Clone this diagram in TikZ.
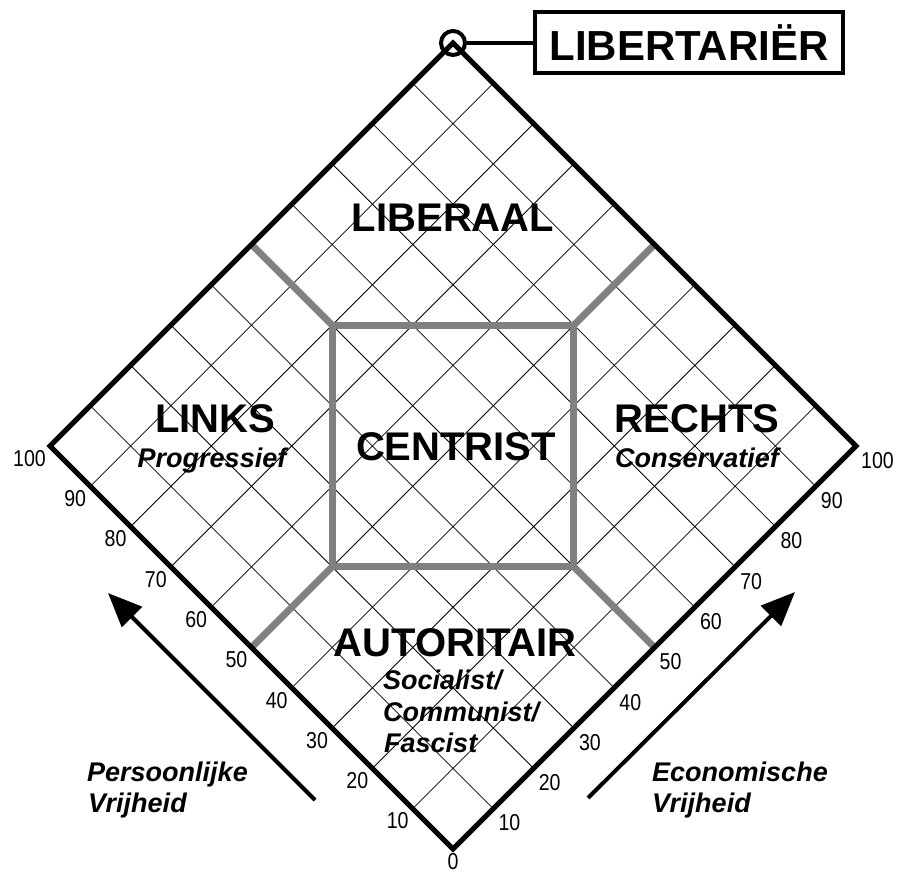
\documentclass[tikz,border=0pt]{standalone}
\usepackage{fontspec}
\setmainfont{Liberation Sans}
\newfontfamily\ticksfont[FakeStretch=0.85]{Liberation Sans}
\usetikzlibrary{arrows.meta}
\tikzset{
  gridline/.style = {black, line width=0.8pt},
  rim/.style      = {black, line width=5pt, line join=miter},
  zone/.style     = {gray, line width=7pt, line join=miter},
  quadrant/.style = {anchor=base, inner sep=0pt, font=\fontsize{40}{44}\selectfont\bfseries},
  leaning/.style  = {anchor=base, inner sep=0pt, font=\fontsize{27}{32}\selectfont\bfseries\itshape},
  tickno/.style   = {inner sep=0pt, font=\fontsize{23}{23}\selectfont\ticksfont},
  freedom/.style  = {-{Triangle[length=34pt,width=28pt]}, line width=4pt},
  namebox/.style  = {draw, line width=4pt, minimum width=308pt, minimum height=61pt,
                     inner sep=0pt, font=\fontsize{42}{46}\selectfont\bfseries}
}

\begin{document}
\begin{tikzpicture}[x=1pt,y=1pt]
  \useasboundingbox (0,0) rectangle (899,874);
  \begin{scope}[shift={(453,25)}, x={(4.03pt,4.03pt)}, y={(-4.03pt,4.03pt)}]
    \foreach \k in {10,20,...,90} {
      \draw[gridline] (\k,0) -- (\k,100);
      \draw[gridline] (0,\k) -- (100,\k);
    }
    \draw[zone] (50,80) -- (80,50) -- (50,20) -- (20,50) -- cycle;
    \draw[zone] (50,80) -- (50,100) (80,50) -- (100,50)
                (50,20) -- (50,0)   (20,50) -- (0,50);
    \draw[rim] (0,0) -- (100,0) -- (100,100) -- (0,100) -- cycle;
    \foreach \k in {10,20,...,100} {
      \node[tickno, anchor=north east, xshift=-4pt, yshift=-4pt] (lt\k) at (0,\k) {\k};
      \node[tickno, anchor=north west, xshift=5pt, yshift=-6pt] (rt\k) at (\k,0) {\k};
    }
    \node[tickno, anchor=north, yshift=-4pt] (zero) at (0,0) {0};
    \coordinate (top) at (100,100);
  \end{scope}

  \node[quadrant] (liberaal) at (453,642) {LIBERAAL};
  \node[quadrant] (links)    at (215,441) {LINKS};
  \node[leaning]  (progr)    at (212,406) {Progressief};
  \node[quadrant] (centrist) at (456,413) {CENTRIST};
  \node[quadrant] (rechts)   at (697,441) {RECHTS};
  \node[leaning]  (cons)     at (697,406) {Conservatief};
  \node[quadrant] (autor)    at (455,217) {AUTORITAIR};
  \node[leaning, anchor=base west] (soc)  at (383,184) {Socialist/};
  \node[leaning, anchor=base west] (com)  at (383,152) {Communist/};
  \node[leaning, anchor=base west] (fasc) at (384,121) {Fascist};

  \coordinate (pstart) at (315,74);
  \coordinate (pend)   at (108,281);
  \draw[freedom] (pstart) -- (pend);
  \node[leaning, anchor=base west] (pers) at (87,92) {Persoonlijke};
  \node[leaning, anchor=base west] (pvr)  at (88,61) {Vrijheid};

  \coordinate (estart) at (588,76);
  \coordinate (eend)   at (795,282);
  \draw[freedom] (estart) -- (eend);
  \node[leaning, anchor=base west] (econ) at (652,92) {Economische};
  \node[leaning, anchor=base west] (evr)  at (652,61) {Vrijheid};

  \node[draw, circle, line width=4pt, minimum size=24pt, inner sep=0pt] (apex) at (top) {};
  \node[namebox] (libbox) at (689,831.5) {LIBERTARIËR};
  \draw[line width=4pt] (apex.east) -- (apex.east -| libbox.west);
\end{tikzpicture}
\end{document}
